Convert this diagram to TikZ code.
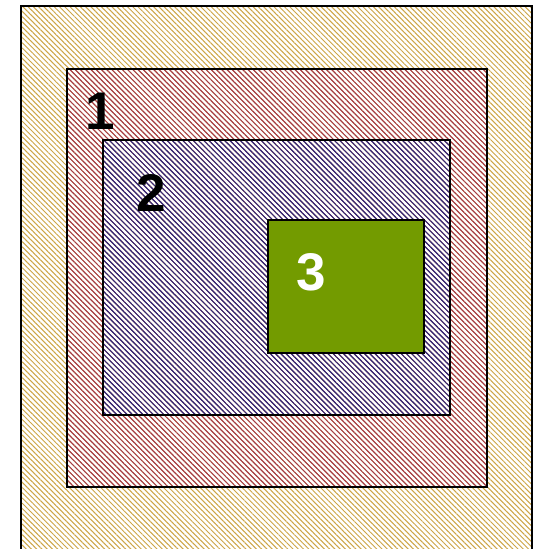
\documentclass[tikz,border=0pt]{standalone}
\usepackage{fontspec}
\setmainfont{Liberation Sans}
\usetikzlibrary{patterns.meta}
\definecolor{hatchyellow}{RGB}{205,165,70}
\definecolor{hatchred}{RGB}{165,55,75}
\definecolor{hatchblue}{RGB}{40,40,130}
\definecolor{boxgreen}{RGB}{115,155,0}
\tikzset{
  hatchbox/.style={draw=black, line width=1.6pt, pattern={Lines[angle=-45,distance=3.7pt,line width=1pt]}, pattern color=#1},
  numlabel/.style={font=\fontsize{53}{53}\selectfont\bfseries, inner sep=0pt}
}
\begin{document}
\begin{tikzpicture}[x=1pt,y=-1pt]
\useasboundingbox (0,0) rectangle (537,549);
\clip (0,0) rectangle (537,549);
\fill[white] (0,0) rectangle (537,549);
\draw[hatchbox=hatchyellow] (21,6) rectangle (532,570);
\draw[hatchbox=hatchred] (67,69) rectangle (487,487);
\draw[hatchbox=hatchblue] (103,140) rectangle (450,415);
\draw[draw=black, line width=1.6pt, fill=boxgreen] (268,220) rectangle (424,353);
\node[numlabel, text=black] (n1) at (100,111) {1};
\node[numlabel, text=black] (n2) at (151,193) {2};
\node[numlabel, text=white] (n3) at (311,272) {3};
\end{tikzpicture}
\end{document}
